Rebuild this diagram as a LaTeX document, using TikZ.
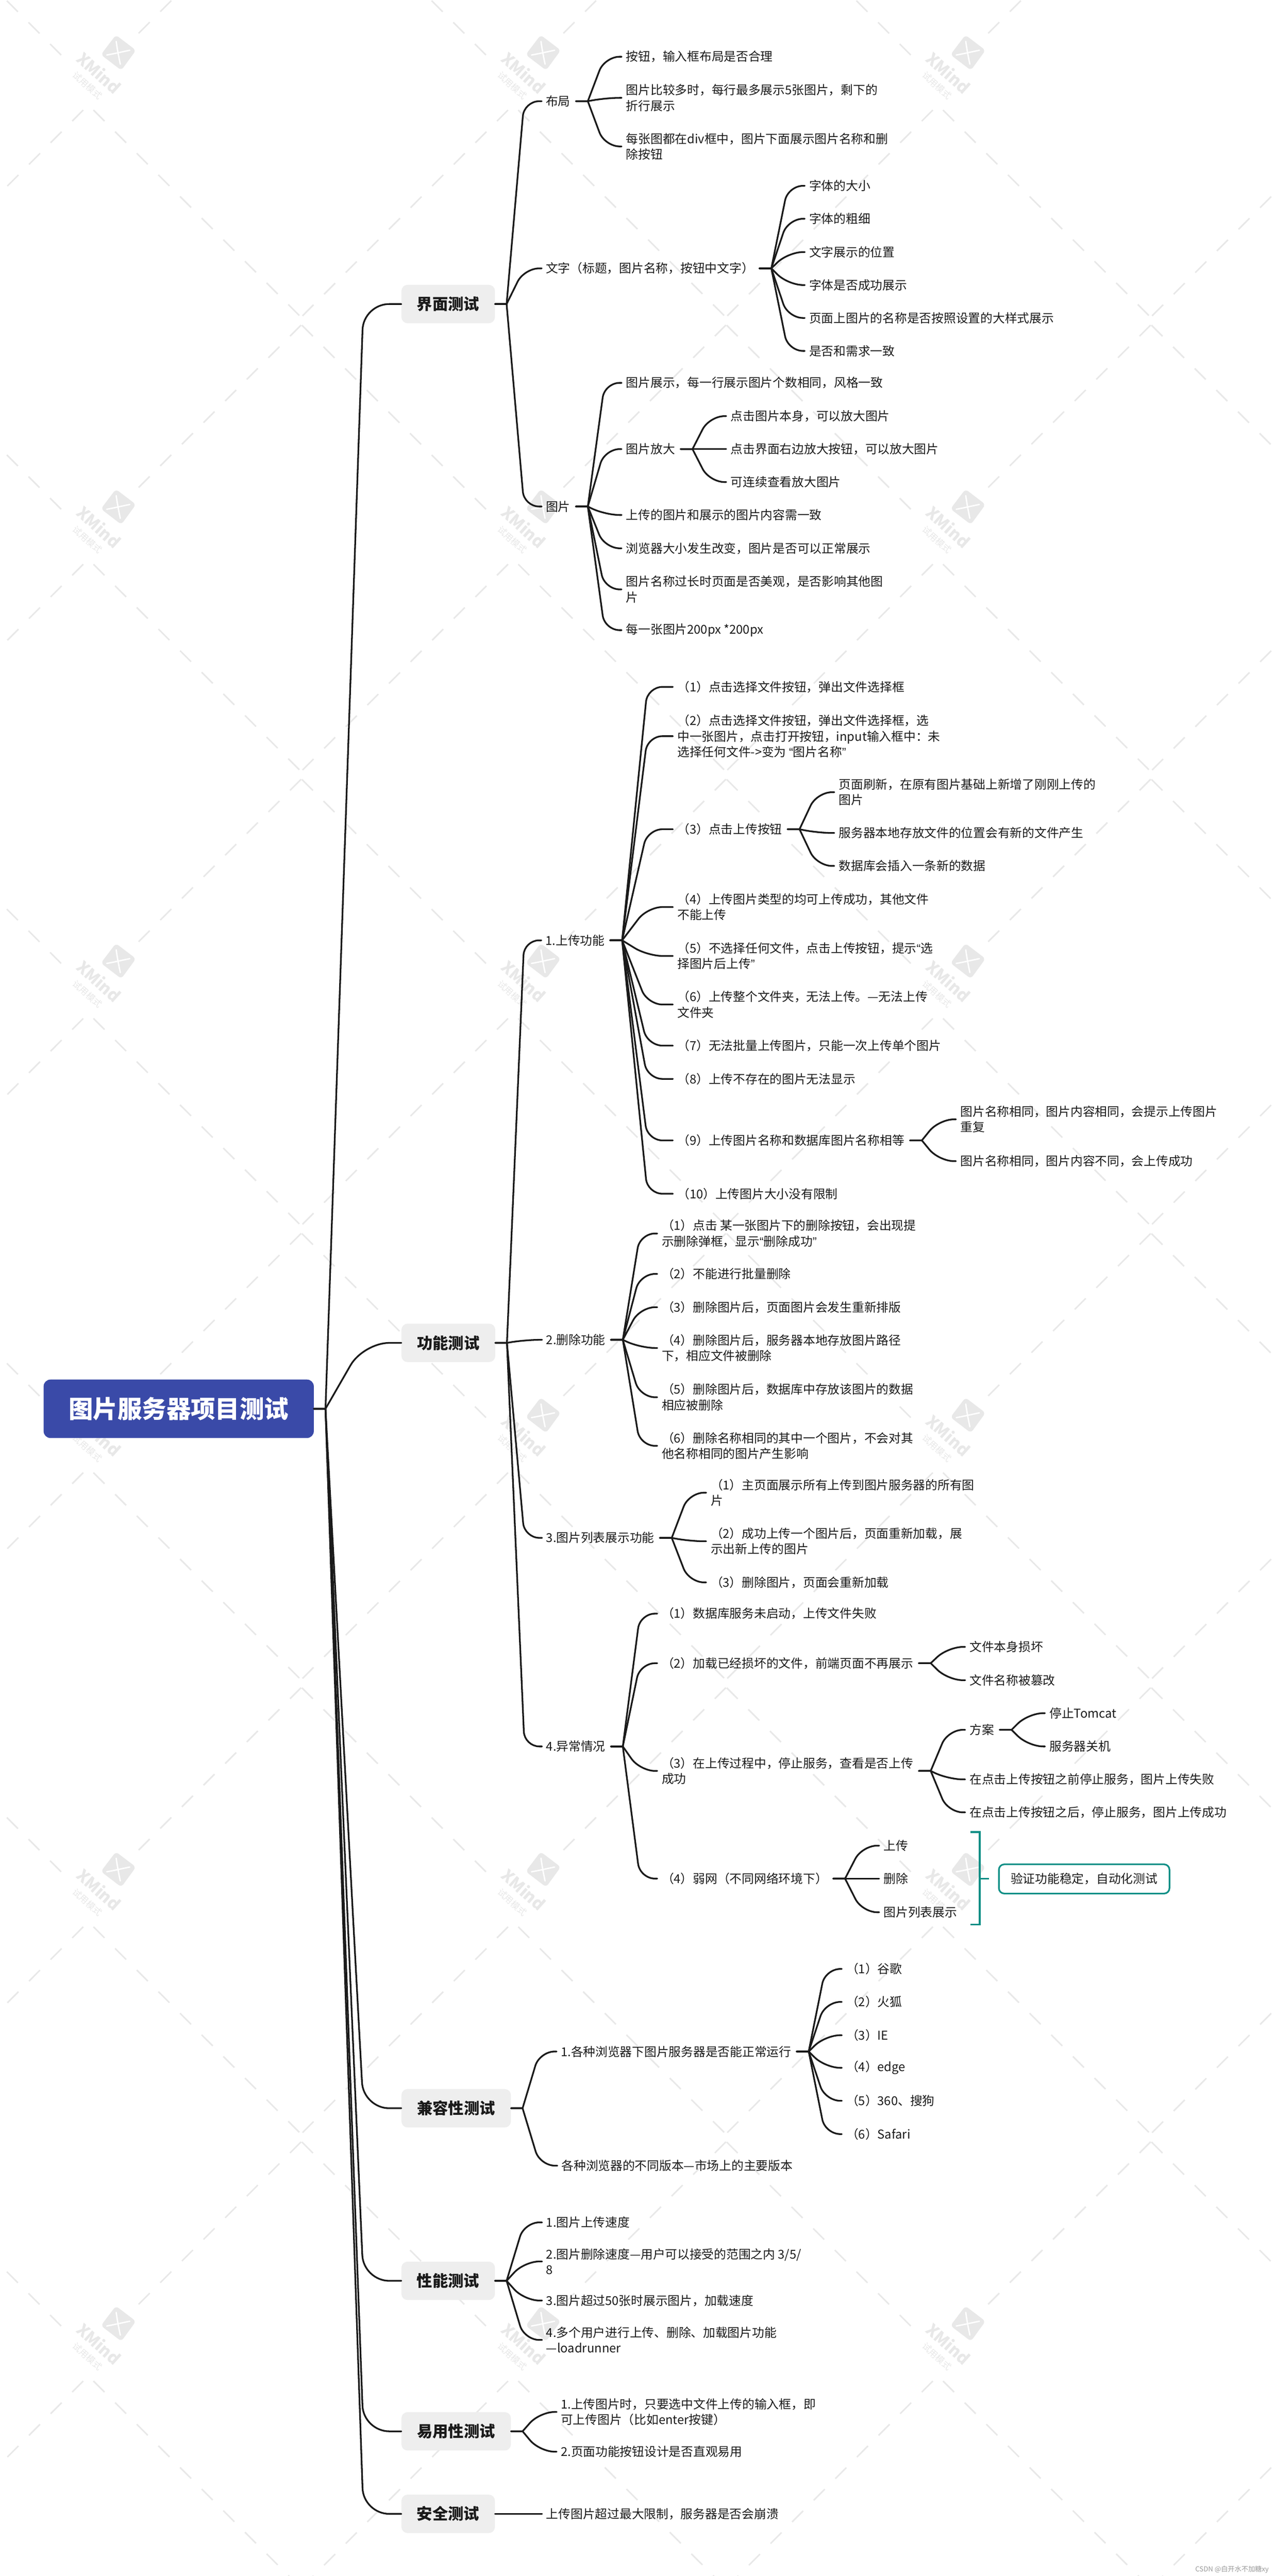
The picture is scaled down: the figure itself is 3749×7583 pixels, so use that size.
\documentclass[tikz,border=0pt]{standalone}
\usepackage{fontspec}
\usetikzlibrary{calc}
\setmainfont{Noto Sans CJK SC}
\newfontfamily\qf{Liberation Sans}
\newcommand{\lqm}{{\qf “}}
\newcommand{\rqm}{{\qf ”}}
\definecolor{ink}{HTML}{1A1A1A}
\definecolor{wm}{HTML}{E8E8E8}
\definecolor{rootblue}{HTML}{3A4AA8}
\definecolor{topicgrey}{HTML}{EEEEEE}
\definecolor{teal}{HTML}{0F8F86}
\tikzset{
  leaf/.style={anchor=west,inner sep=0pt,align=left,text=ink,font=\fontsize{18}{23}\selectfont},
  topic/.style={anchor=west,inner xsep=0pt,inner ysep=0pt,minimum height=56.5pt,fill=topicgrey,rounded corners=9pt,text=ink,font=\fontsize{23}{27}\selectfont\bfseries},
  rootnode/.style={anchor=west,inner sep=0pt,minimum width=397.5pt,minimum height=86pt,fill=rootblue,rounded corners=10pt,text=white,font=\fontsize{36}{42}\selectfont\bfseries},
  conn/.style={draw=ink,line width=2.5pt,line cap=round,line join=round},
  wmray/.style={draw=wm,line width=2.2pt,dash pattern=on 23pt off 22pt},
  sumline/.style={draw=teal,line width=2.4pt},
  sumbox/.style={anchor=west,draw=teal,line width=2.4pt,fill=white,rounded corners=8pt,inner sep=0pt,minimum width=251pt,minimum height=43pt,text=ink,font=\fontsize{18}{23}\selectfont},
  wmtext/.style={rotate=-42,text=wm,inner sep=0pt,align=center,font=\fontsize{24}{20.5}\selectfont\bfseries},
}
% ordinary branch: parent text, gap, stub, elbow, gap, child text
\newcommand{\lnk}[2]{\draw[conn] let \p1=(#1.east),\p2=(#2.west) in
  (\x1+8pt,\y1) -- (\x1+25.5pt,\y1)
  (\x1+25.5pt,\y1) [rounded corners=22pt] -- ({(\x1+25.5pt+\x2-6.5pt)/2},\y2) -- (\x2-6.5pt,\y2);}
% from a topic box
\newcommand{\toplnk}[2]{\draw[conn] let \p1=(#1.east),\p2=(#2.west) in
  (\x1,\y1) -- (\x1+17pt,\y1)
  (\x1+17pt,\y1) [rounded corners=22pt] -- ({(\x1+17pt+\x2-6pt)/2},\y2) -- (\x2-6pt,\y2);}
% from the root box
\newcommand{\rootlnk}[2]{\draw[conn] let \p1=(#1.east),\p2=(#2.west) in
  (\x1,\y1) -- (\x1+17pt,\y1)
  (\x1+17pt,\y1) [rounded corners=38pt] -- ({(\x1+17pt+\x2)/2},\y2) -- (\x2,\y2);}
\newcommand{\leafn}[4]{\node[leaf] (#1) at (#2,#3) {#4};}
\begin{document}
\begin{tikzpicture}[x=0.5pt,y=-0.5pt]
\useasboundingbox (0,0) rectangle (3749,7583);
\fill[white] (0,0) rectangle (3749,7583);
% ---------- watermark ----------
\begin{scope}
\clip (0,0) rectangle (3749,7583);
\foreach \lx in {-903,347,1597,2847,4097}{
 \foreach \ly in {-1182,155,1492,2829,4166,5503,6840,8177}{
  \begin{scope}[shift={(\lx,\ly)}]
   \draw[wmray] (-167,7) -- (-710,-536);
   \draw[wmray] (61,-57) -- (540,-536);
   \draw[wmray] (-72,169) -- (539,779);
   \draw[wmray] (-102,169) -- (-711,779);
  \end{scope}
 }}
\foreach \lx in {347,1597,2847}{
 \foreach \ly in {155,1492,2829,4166,5503,6840}{
  \begin{scope}[shift={(\lx,\ly)}]
   \fill[wm,rounded corners=5pt] (-6,-52) -- (53,-7) -- (10,52) -- (-50,6) -- cycle;
   \draw[white,line width=2pt,line cap=round] (-5,-33) .. controls (-2,-10) and (2,10) .. (7,34);
   \draw[white,line width=2pt,line cap=round] (-33,7) .. controls (-10,3) and (10,-2) .. (35,-7);
   \node[wmtext] at (-70,75) {XMind\\{\fontsize{13}{20.5}\selectfont\mdseries 试用模式}};
  \end{scope}
 }}
\end{scope}
% ---------- root and topics ----------
\node[rootnode] (root) at (128,4147) {图片服务器项目测试};
\node[topic,minimum width=137.5pt] (t1) at (1181,895) {界面测试};
\node[topic,minimum width=138pt] (t2) at (1181,3953) {功能测试};
\node[topic,minimum width=161pt] (t3) at (1181,6206) {兼容性测试};
\node[topic,minimum width=137.5pt] (t4) at (1181,6714) {性能测试};
\node[topic,minimum width=161pt] (t5) at (1181,7157) {易用性测试};
\node[topic,minimum width=137.5pt] (t6) at (1181,7400) {安全测试};
% ---------- 界面测试 ----------
\leafn{a}{1606}{298}{布局}
\leafn{a1}{1842}{167}{按钮，输入框布局是否合理}
\leafn{a2}{1842}{288}{图片比较多时，每行最多展示5张图片，剩下的\\折行展示}
\leafn{a3}{1842}{431}{每张图都在div框中，图片下面展示图片名称和删\\除按钮}
\leafn{b}{1606}{790}{文字（标题，图片名称，按钮中文字）}
\leafn{b1}{2381}{547}{字体的大小}
\leafn{b2}{2381}{644}{字体的粗细}
\leafn{b3}{2381}{742}{文字展示的位置}
\leafn{b4}{2381}{839}{字体是否成功展示}
\leafn{b5}{2381}{936}{页面上图片的名称是否按照设置的大样式展示}
\leafn{b6}{2381}{1033}{是否和需求一致}
\leafn{c}{1606}{1491}{图片}
\leafn{c1}{1842}{1127}{图片展示，每一行展示图片个数相同，风格一致}
\leafn{c2}{1842}{1322}{图片放大}
\leafn{c21}{2150}{1225}{点击图片本身，可以放大图片}
\leafn{c22}{2150}{1322}{点击界面右边放大按钮，可以放大图片}
\leafn{c23}{2150}{1419}{可连续查看放大图片}
\leafn{c3}{1842}{1516}{上传的图片和展示的图片内容需一致}
\leafn{c4}{1842}{1614}{浏览器大小发生改变，图片是否可以正常展示}
\leafn{c5}{1842}{1735}{图片名称过长时页面是否美观，是否影响其他图\\片}
\leafn{c6}{1842}{1855}{每一张图片200px *200px}
% ---------- 功能测试 / 1 ----------
\leafn{d}{1605}{2768}{1.上传功能}
\leafn{d1}{1993}{2022}{（1）点击选择文件按钮，弹出文件选择框}
\leafn{d2}{1993}{2167}{（2）点击选择文件按钮，弹出文件选择框，选\\中一张图片，点击打开按钮，input输入框中：未\\选择任何文件->变为 \lqm 图片名称\rqm}
\leafn{d3}{1993}{2441}{（3）点击上传按钮}
\leafn{d31}{2468}{2332}{页面刷新，在原有图片基础上新增了刚刚上传的\\图片}
\leafn{d32}{2468}{2452}{服务器本地存放文件的位置会有新的文件产生}
\leafn{d33}{2468}{2549}{数据库会插入一条新的数据}
\leafn{d4}{1993}{2670}{（4）上传图片类型的均可上传成功，其他文件\\不能上传}
\leafn{d5}{1993}{2814}{（5）不选择任何文件，点击上传按钮，提示\lqm 选\\择图片后上传\rqm}
\leafn{d6}{1993}{2957}{（6）上传整个文件夹，无法上传。—无法上传\\文件夹}
\leafn{d7}{1993}{3078}{（7）无法批量上传图片，只能一次上传单个图片}
\leafn{d8}{1993}{3176}{（8）上传不存在的图片无法显示}
\leafn{d9}{1993}{3357}{（9）上传图片名称和数据库图片名称相等}
\leafn{d91}{2826}{3295}{图片名称相同，图片内容相同，会提示上传图片\\重复}
\leafn{d92}{2826}{3418}{图片名称相同，图片内容不同，会上传成功}
\leafn{d10}{1993}{3514}{（10）上传图片大小没有限制}
% ---------- 功能测试 / 2 ----------
\leafn{e}{1607}{3944}{2.删除功能}
\leafn{e1}{1947}{3631}{（1）点击 某一张图片下的删除按钮，会出现提\\示删除弹框，显示\lqm 删除成功\rqm}
\leafn{e2}{1947}{3750}{（2）不能进行批量删除}
\leafn{e3}{1947}{3848}{（3）删除图片后，页面图片会发生重新排版}
\leafn{e4}{1947}{3968}{（4）删除图片后，服务器本地存放图片路径\\下，相应文件被删除}
\leafn{e5}{1947}{4113}{（5）删除图片后，数据库中存放该图片的数据\\相应被删除}
\leafn{e6}{1947}{4256}{（6）删除名称相同的其中一个图片，不会对其\\他名称相同的图片产生影响}
% ---------- 功能测试 / 3 ----------
\leafn{f}{1607}{4527}{3.图片列表展示功能}
\leafn{f1}{2091}{4394}{（1）主页面展示所有上传到图片服务器的所有图\\片}
\leafn{f2}{2091}{4537}{（2）成功上传一个图片后，页面重新加载，展\\示出新上传的图片}
\leafn{f3}{2091}{4658}{（3）删除图片，页面会重新加载}
% ---------- 功能测试 / 4 ----------
\leafn{g}{1607}{5141}{4.异常情况}
\leafn{g1}{1947}{4750}{（1）数据库服务未启动，上传文件失败}
\leafn{g2}{1947}{4896}{（2）加载已经损坏的文件，前端页面不再展示}
\leafn{g21}{2853}{4848}{文件本身损坏}
\leafn{g22}{2853}{4946}{文件名称被篡改}
\leafn{g3}{1947}{5213}{（3）在上传过程中，停止服务，查看是否上传\\成功}
\leafn{g31}{2853}{5092}{方案}
\leafn{g311}{3088}{5043}{停止Tomcat}
\leafn{g312}{3088}{5141}{服务器关机}
\leafn{g32}{2853}{5238}{在点击上传按钮之前停止服务，图片上传失败}
\leafn{g33}{2853}{5335}{在点击上传按钮之后，停止服务，图片上传成功}
\leafn{g4}{1947}{5530}{（4）弱网（不同网络环境下）}
\leafn{g41}{2600}{5433}{上传}
\leafn{g42}{2600}{5530}{删除}
\leafn{g43}{2600}{5629}{图片列表展示}
\node[sumbox] (sum) at (2937,5531) {验证功能稳定，自动化测试};
\coordinate (brkT) at (2856,5393);
\coordinate (brkB) at (2856,5665);
\coordinate (brkM) at (2883,5530);
\draw[sumline] (brkT) -- (brkT -| brkM) -- (brkB -| brkM) -- (brkB);
\draw[sumline] (brkM) -- ($(brkM)!0.5!(brkM -| sum.west)$);
% ---------- 兼容性 ----------
\leafn{h}{1650}{6039}{1.各种浏览器下图片服务器是否能正常运行}
\leafn{h1}{2490}{5796}{（1）谷歌}
\leafn{h2}{2490}{5893}{（2）火狐}
\leafn{h3}{2490}{5991}{（3）IE}
\leafn{h4}{2490}{6087}{（4）edge}
\leafn{h5}{2490}{6184}{（5）360、搜狗}
\leafn{h6}{2490}{6282}{（6）Safari}
\leafn{i}{1652}{6375}{各种浏览器的不同版本—市场上的主要版本}
% ---------- 性能 ----------
\leafn{j1}{1607}{6542}{1.图片上传速度}
\leafn{j2}{1607}{6657}{2.图片删除速度—用户可以接受的范围之内 3/5/\\8}
\leafn{j3}{1607}{6772}{3.图片超过50张时展示图片，加载速度}
\leafn{j4}{1607}{6888}{4.多个用户进行上传、删除、加载图片功能\\—loadrunner}
% ---------- 易用性 ----------
\leafn{k1}{1650}{7100}{1.上传图片时，只要选中文件上传的输入框，即\\可上传图片（比如enter按键）}
\leafn{k2}{1650}{7217}{2.页面功能按钮设计是否直观易用}
% ---------- 安全 ----------
\leafn{l1}{1607}{7400}{上传图片超过最大限制，服务器是否会崩溃}
\node[anchor=east,inner sep=0pt,text=gray!80,font=\fontsize{10}{12}\selectfont] (csdn) at (3734,7564) {CSDN @白开水不加糖xy};
% ---------- connectors ----------
\foreach \t in {t1,t2,t3,t4,t5,t6}{\rootlnk{root}{\t}}
\foreach \c in {a,b,c}{\toplnk{t1}{\c}}
\foreach \c in {d,e,f,g}{\toplnk{t2}{\c}}
\foreach \c in {h,i}{\toplnk{t3}{\c}}
\foreach \c in {j1,j2,j3,j4}{\toplnk{t4}{\c}}
\foreach \c in {k1,k2}{\toplnk{t5}{\c}}
\toplnk{t6}{l1}
\foreach \c in {a1,a2,a3}{\lnk{a}{\c}}
\foreach \c in {b1,b2,b3,b4,b5,b6}{\lnk{b}{\c}}
\foreach \c in {c1,c2,c3,c4,c5,c6}{\lnk{c}{\c}}
\foreach \c in {c21,c22,c23}{\lnk{c2}{\c}}
\foreach \c in {d1,d2,d3,d4,d5,d6,d7,d8,d9,d10}{\lnk{d}{\c}}
\foreach \c in {d31,d32,d33}{\lnk{d3}{\c}}
\foreach \c in {d91,d92}{\lnk{d9}{\c}}
\foreach \c in {e1,e2,e3,e4,e5,e6}{\lnk{e}{\c}}
\foreach \c in {f1,f2,f3}{\lnk{f}{\c}}
\foreach \c in {g1,g2,g3,g4}{\lnk{g}{\c}}
\foreach \c in {g21,g22}{\lnk{g2}{\c}}
\foreach \c in {g31,g32,g33}{\lnk{g3}{\c}}
\foreach \c in {g311,g312}{\lnk{g31}{\c}}
\foreach \c in {g41,g42,g43}{\lnk{g4}{\c}}
\foreach \c in {h1,h2,h3,h4,h5,h6}{\lnk{h}{\c}}
\end{tikzpicture}
\end{document}
